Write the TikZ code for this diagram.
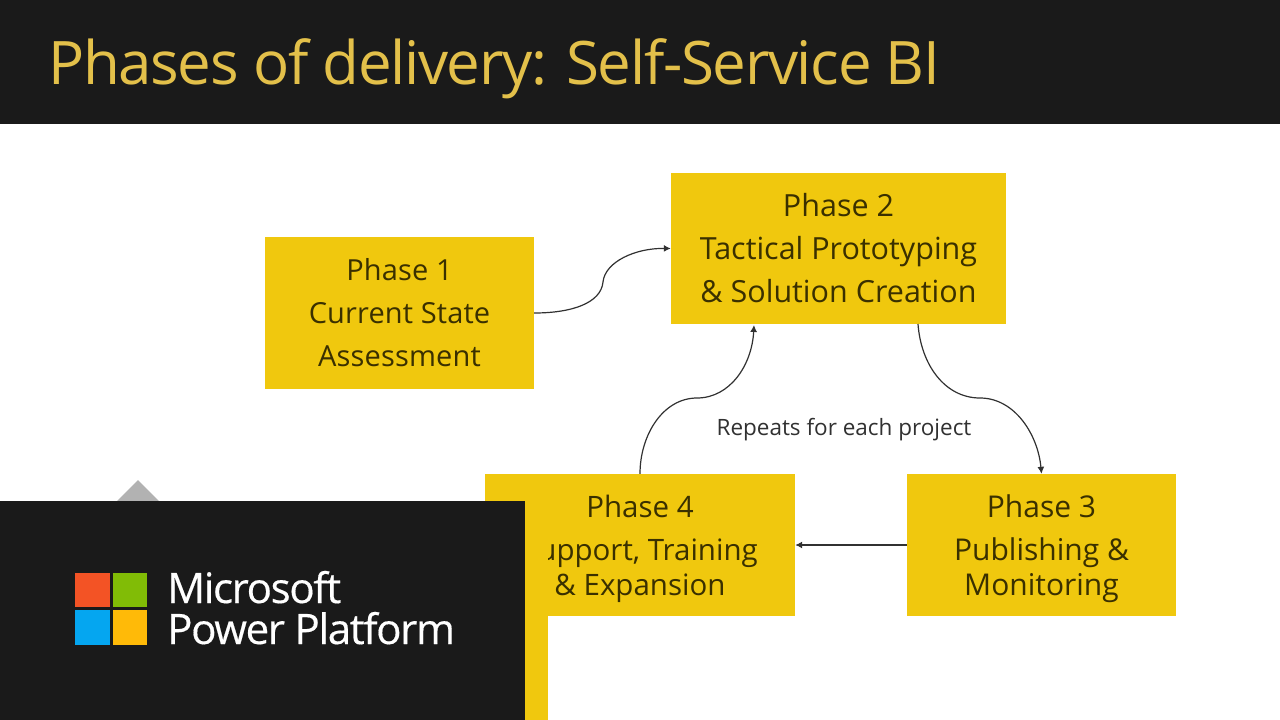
\documentclass[tikz,border=0pt]{standalone}
\usepackage{fontspec}
\setmainfont{Open Sans}
\usetikzlibrary{arrows.meta}
\definecolor{ink}{HTML}{1A1A1A}
\definecolor{phase}{HTML}{F0C80E}
\definecolor{titlegold}{HTML}{E3C04A}
\definecolor{txt}{HTML}{3A3000}
\definecolor{msred}{HTML}{F35325}
\definecolor{msgreen}{HTML}{81BC06}
\definecolor{msblue}{HTML}{05A6F0}
\definecolor{msyellow}{HTML}{FFBA08}
\tikzset{
  phasebox/.style={fill=phase,draw=none,inner sep=0pt,text=txt,align=center,font=\fontsize{29}{43}\selectfont},
  flow/.style={draw=ink!90,line width=1.2pt,-{Latex[length=7pt,width=7pt]}},
  logotext/.style={anchor=base west,inner sep=0pt,text=white,font=\fontsize{42}{44}\selectfont\addfontfeature{LetterSpace=-3.2,FakeBold=0.4}},
}
\begin{document}
\begin{tikzpicture}[x=1pt,y=-1pt]
\useasboundingbox (0,0) rectangle (1280,720);
\fill[white] (0,0) rectangle (1280,720);
% header
\fill[ink] (0,0) rectangle (1280,124);
\node[anchor=base west,inner sep=0pt,text=titlegold,font=\fontsize{60}{70}\selectfont\addfontfeature{LetterSpace=-2.2}] (title) at (48,84) {Phases of delivery: Self-Service BI};
% boxes
\node[phasebox,minimum width=269pt,minimum height=152pt,font=\fontsize{29}{43}\selectfont\addfontfeature{LetterSpace=0.5}] (p1) at (399.5,313) {Phase 1\\Current State\\Assessment};
\node[phasebox,minimum width=335pt,minimum height=151pt,font=\fontsize{30.5}{43}\selectfont] (p2) at (838.5,248.5) {Phase 2\\Tactical Prototyping\\\& Solution Creation};
\node[phasebox,minimum width=269pt,minimum height=142pt,font=\fontsize{30}{43}\selectfont] (p3) at (1041.5,545) {\rule{0pt}{31pt}Phase 3\\Publishing \&\\[-8pt]Monitoring};
\node[phasebox,minimum width=310pt,minimum height=142pt,font=\fontsize{29.5}{43}\selectfont] (p4) at (640,545) {\rule{0pt}{31pt}Phase 4\\Support, Training\\[-8pt]\& Expansion};
\coordinate (p2in) at (754,325);
\coordinate (p2out) at (918,324);
\node[inner sep=0pt,text=ink!90,font=\fontsize{22.5}{27}\selectfont] (rep) at (844,430) {Repeats for each project};
% connectors
\draw[flow] (p1.east) .. controls (572,313) and (601,303) .. (603,282) .. controls (605,262) and (635,248) .. (p2.west);
\draw[flow] (p2out) .. controls (921,365) and (945,398) .. (980,398) .. controls (1015,398) and (1038,435) .. (p3.north);
\draw[flow] (p4.north) .. controls (640,435) and (663,398) .. (697,398) .. controls (730,398) and (752,365) .. (p2in);
\draw[flow] (p3.west) -- (p4.east);
% lower-left panel
\fill[black!30] (117,501) -- (138,480) -- (159,501) -- cycle;
\fill[phase] (525,501) rectangle (548,720);
\fill[ink] (0,501) rectangle (525,720);
% logo
\fill[msred] (75,573) rectangle (109.5,607);
\fill[msgreen] (112.5,573) rectangle (147,607);
\fill[msblue] (75,610) rectangle (109.5,645);
\fill[msyellow] (112.5,610) rectangle (147,645);
\node[logotext] (ms) at (167,603) {Microsoft};
\node[logotext] (pp) at (167,644) {Power Platform};
\end{tikzpicture}
\end{document}
